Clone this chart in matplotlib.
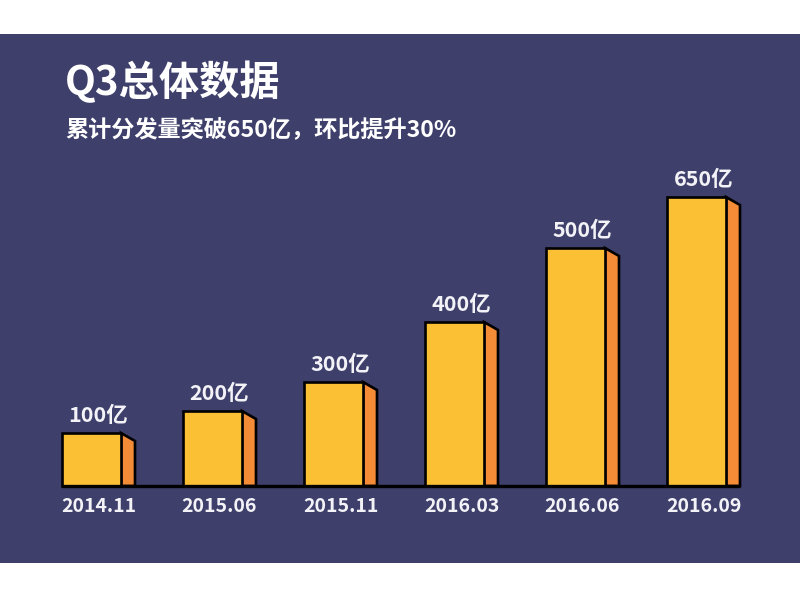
import matplotlib
matplotlib.use("Agg")
import matplotlib.pyplot as plt
from matplotlib.patches import Rectangle, Polygon

categories = ["2014.11", "2015.06", "2015.11", "2016.03", "2016.06", "2016.09"]
values = [100, 200, 300, 400, 500, 650]          # 亿 (labels)
bar_heights = [53, 75, 104, 164, 238, 289]       # drawn heights
title = "Q3总体数据"
subtitle = "累计分发量突破650亿，环比提升30%"

BG = "#3e3f6b"
FRONT = "#fcc034"
SIDE = "#f38b37"
TXT = "#f2f2f7"
CJK = ["Noto Sans CJK SC", "DejaVu Sans"]
NUM = ["Liberation Sans Narrow", "Noto Sans CJK SC", "DejaVu Sans"]

W, H, DPI = 800, 600, 100
fig = plt.figure(figsize=(W / DPI, H / DPI), dpi=DPI, facecolor="white")
fig.patches.append(Rectangle((0, (H - 563) / H), 1, (563 - 34) / H,
                             transform=fig.transFigure, facecolor=BG,
                             edgecolor="none", zorder=-10))

# layout: one x unit = spacing between bars, one y unit = one pixel
spacing_px = 121.0
first_center_px = 91.5
base_px = 486.0
ax = fig.add_axes([0, 0, 1, 1], zorder=2)
ax.set_xlim(-first_center_px / spacing_px, (W - first_center_px) / spacing_px)
ax.set_ylim(-(H - base_px), base_px)
ax.axis("off")
ax.patch.set_alpha(0)

bw = 59 / spacing_px
dx = 14 / spacing_px
dy = 8

for i, (h, v, c) in enumerate(zip(bar_heights, values, categories)):
    r = i + bw / 2
    side = Polygon([(r, 0), (r, h), (r + dx, h - dy), (r + dx, 0)], closed=True,
                   facecolor=SIDE, edgecolor="black", linewidth=1.9,
                   joinstyle="miter", zorder=2)
    ax.add_patch(side)
    ax.bar(i, h, width=bw, color=FRONT, edgecolor="black", linewidth=1.9, zorder=3)
    xc = i + dx / 2
    ax.text(xc, h + 7, f"{v}亿", ha="center", va="bottom", color=TXT,
            fontsize=15.5, fontweight="bold", family=NUM, zorder=4)
    ax.text(xc, -11, c, ha="center", va="top", color=TXT,
            fontsize=14, fontweight="bold", family=NUM, zorder=4)

n = len(categories)
ax.plot([-bw / 2, (n - 1) + bw / 2 + dx], [0, 0], color="black",
        linewidth=2.4, solid_capstyle="butt", zorder=5)

fig.text(65 / W, 1 - 83 / H, title, ha="left", va="center", color="white",
         fontsize=29, fontweight="bold", family=CJK, zorder=3)
fig.text(65 / W, 1 - 130 / H, subtitle, ha="left", va="center", color="white",
         fontsize=16.7, fontweight="bold", family=CJK, zorder=3)

fig.savefig("out.png", dpi=DPI, facecolor="white")
